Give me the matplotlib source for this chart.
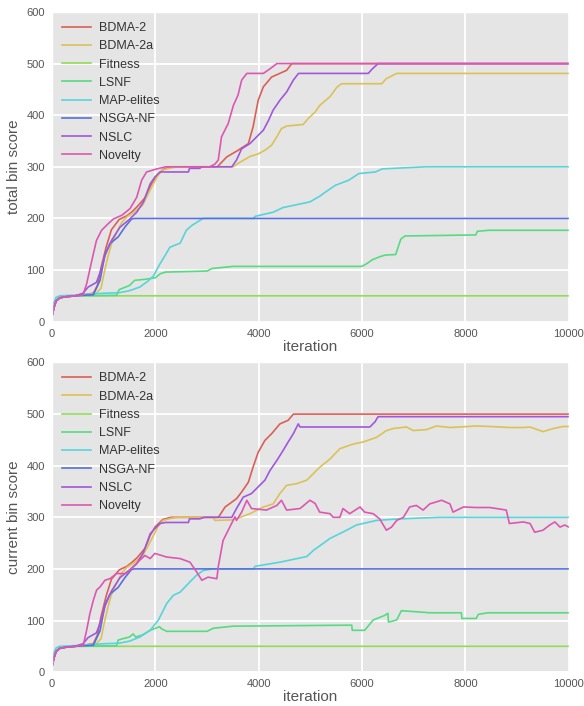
import matplotlib
matplotlib.use("Agg")
import matplotlib.pyplot as plt
import seaborn as sns

names = ["BDMA-2", "BDMA-2a", "Fitness", "LSNF", "MAP-elites", "NSGA-NF", "NSLC", "Novelty"]

# shared start of the runs (iteration, score)
early = [(0, 10), (40, 28), (80, 40), (150, 46), (250, 48), (450, 50)]

# total bin score
bdma2_tot = early + [(600, 52), (800, 55), (880, 70), (950, 105), (1050, 145), (1150, 178), (1300, 198),
                     (1450, 205), (1550, 213), (1650, 223), (1800, 240), (1900, 262), (2000, 280), (2150, 295),
                     (2300, 300), (3200, 300), (3380, 319), (3600, 332), (3800, 345), (3890, 377), (3990, 429),
                     (4090, 455), (4250, 474), (4540, 487), (4640, 500), (10000, 500)]
bdma2a_tot = early + [(600, 52), (850, 54), (950, 65), (1000, 90), (1080, 125), (1150, 150), (1250, 172),
                      (1350, 192), (1450, 203), (1600, 213), (1750, 225), (1850, 245), (1950, 265), (2050, 283),
                      (2150, 294), (2300, 298), (2450, 300), (3500, 300), (3640, 309), (3830, 320), (3990, 325),
                      (4120, 332), (4250, 342), (4350, 358), (4440, 374), (4540, 379), (4860, 382), (4960, 394),
                      (5090, 406), (5180, 419), (5380, 436), (5510, 454), (5600, 461), (6380, 461), (6470, 471),
                      (6670, 481), (10000, 481)]
fitness_tot = [(0, 10), (40, 30), (80, 42), (150, 47), (300, 50), (10000, 50)]
lsnf_tot = early + [(1250, 51), (1300, 62), (1400, 66), (1500, 70), (1600, 80), (1800, 82), (2000, 85),
                    (2100, 93), (2200, 96), (3000, 98), (3100, 103), (3500, 107), (5990, 107), (6050, 110),
                    (6100, 113), (6200, 120), (6350, 126), (6450, 129), (6650, 130), (6700, 145), (6750, 160),
                    (6830, 166), (8200, 168), (8230, 175), (8450, 177), (10000, 177)]
map_tot = [(0, 15), (40, 38), (80, 47), (150, 50), (600, 52), (1000, 55), (1300, 56), (1500, 60), (1700, 67),
           (1850, 78), (1960, 88), (2090, 112), (2200, 130), (2280, 144), (2400, 149), (2480, 152), (2600, 177),
           (2700, 186), (2860, 196), (2930, 200), (3900, 200), (3930, 204), (4280, 212), (4470, 221), (4990, 232),
           (5180, 243), (5290, 251), (5480, 264), (5740, 274), (5940, 287), (6260, 290), (6390, 296), (7230, 300),
           (10000, 300)]
nsga_tot = early + [(600, 51), (800, 52), (930, 80), (1025, 130), (1120, 151), (1280, 164), (1410, 183),
                    (1540, 199), (1600, 200), (10000, 200)]
nslc_tot = early + [(600, 55), (700, 67), (860, 76), (950, 100), (1025, 128), (1150, 157), (1315, 183),
                    (1475, 196), (1640, 212), (1770, 232), (1900, 267), (1990, 280), (2090, 290), (2640, 290),
                    (2660, 297), (2860, 297), (2900, 300), (3480, 300), (3570, 313), (3670, 335), (3830, 345),
                    (3960, 358), (4090, 371), (4190, 390), (4280, 410), (4410, 429), (4540, 445), (4670, 468),
                    (4770, 481), (6120, 481), (6200, 490), (6310, 500), (10000, 500)]
nov_tot = early + [(600, 52), (670, 73), (770, 118), (860, 157), (960, 177), (1090, 190), (1190, 199),
                   (1350, 206), (1510, 219), (1640, 241), (1735, 274), (1830, 290), (2030, 296), (2200, 300),
                   (3050, 300), (3150, 305), (3217, 313), (3280, 358), (3410, 384), (3510, 419), (3600, 439),
                   (3670, 468), (3770, 481), (4090, 481), (4220, 490), (4350, 500), (10000, 500)]

# current bin score
bdma2_cur = early + [(600, 52), (800, 55), (880, 72), (950, 108), (1050, 148), (1150, 180), (1300, 198),
                     (1450, 205), (1550, 213), (1650, 222), (1800, 240), (1900, 265), (2000, 282), (2150, 296),
                     (2300, 300), (3220, 300), (3350, 320), (3570, 336), (3670, 349), (3800, 368), (3890, 397),
                     (3990, 426), (4120, 449), (4250, 462), (4410, 481), (4570, 488), (4670, 500), (10000, 500)]
bdma2a_cur = early + [(600, 52), (850, 54), (950, 65), (1000, 90), (1080, 125), (1150, 150), (1250, 172),
                      (1350, 192), (1450, 203), (1600, 213), (1750, 225), (1850, 243), (1950, 262), (2050, 282),
                      (2150, 294), (2300, 298), (2450, 300), (3120, 300), (3150, 294), (3500, 295), (3640, 300),
                      (3830, 307), (4090, 320), (4280, 326), (4410, 346), (4540, 362), (4730, 365), (4930, 372),
                      (5120, 391), (5180, 397), (5380, 413), (5570, 433), (5830, 442), (6020, 446), (6280, 455),
                      (6470, 468), (6600, 472), (6860, 475), (6990, 468), (7250, 470), (7440, 477), (7700, 474),
                      (7890, 475), (8210, 477), (8470, 476), (8860, 474), (9120, 474), (9250, 475), (9500, 466),
                      (9700, 472), (9890, 476), (10000, 476)]
fitness_cur = [(0, 10), (40, 30), (80, 42), (150, 47), (300, 50), (10000, 50)]
lsnf_cur = early + [(1250, 51), (1280, 62), (1380, 65), (1500, 68), (1570, 74), (1620, 68), (1750, 72),
                    (1900, 81), (2080, 88), (2120, 84), (2220, 79), (3000, 79), (3120, 85), (3500, 89), (5800, 91),
                    (5810, 81), (6050, 81), (6215, 101), (6440, 110), (6500, 114), (6510, 97), (6670, 101),
                    (6760, 119), (7310, 115), (7920, 115), (7930, 104), (8210, 104), (8250, 112), (8440, 115),
                    (10000, 115)]
map_cur = [(0, 15), (40, 38), (80, 47), (150, 50), (600, 52), (1000, 55), (1300, 56), (1500, 60), (1700, 68),
           (1900, 81), (2060, 101), (2220, 133), (2350, 149), (2480, 155), (2670, 175), (2800, 188), (2930, 197),
           (3100, 200), (3900, 200), (3930, 205), (4410, 213), (4930, 224), (5060, 236), (5380, 259), (5700, 275),
           (5890, 285), (6280, 294), (6730, 297), (7500, 300), (10000, 300)]
nsga_cur = early + [(600, 51), (800, 52), (930, 80), (1025, 130), (1120, 151), (1280, 164), (1410, 183),
                    (1540, 199), (1600, 200), (10000, 200)]
nslc_cur = early + [(600, 55), (700, 67), (860, 76), (950, 100), (1025, 128), (1150, 157), (1315, 183),
                    (1475, 196), (1640, 210), (1770, 232), (1900, 268), (1990, 278), (2090, 288), (2200, 290),
                    (2640, 290), (2660, 297), (2860, 297), (2950, 300), (3480, 300), (3570, 317), (3700, 339),
                    (3860, 346), (3990, 359), (4120, 372), (4220, 391), (4350, 410), (4475, 430), (4570, 446),
                    (4670, 462), (4765, 481), (4800, 475), (6150, 475), (6250, 485), (6310, 495), (10000, 495)]
nov_cur = early + [(570, 52), (605, 52), (670, 81), (735, 114), (800, 139), (864, 159), (930, 165), (1025, 178),
                   (1120, 181), (1250, 191), (1440, 191), (1570, 204), (1700, 217), (1800, 226), (1900, 220),
                   (1990, 230), (2220, 223), (2480, 220), (2670, 213), (2800, 194), (2900, 178), (3020, 184),
                   (3190, 181), (3217, 204), (3310, 255), (3440, 281), (3540, 301), (3570, 294), (3670, 310),
                   (3770, 333), (3860, 317), (4150, 314), (4350, 323), (4440, 333), (4540, 314), (4800, 317),
                   (4990, 333), (5090, 327), (5180, 310), (5380, 307), (5440, 300), (5570, 300), (5630, 317),
                   (5760, 307), (5960, 320), (6050, 310), (6215, 307), (6340, 297), (6470, 275), (6570, 281),
                   (6670, 294), (6800, 300), (6920, 320), (7050, 323), (7180, 314), (7310, 326), (7540, 333),
                   (7700, 326), (7760, 310), (7960, 320), (8210, 319), (8470, 319), (8790, 314), (8850, 288),
                   (9120, 291), (9250, 288), (9340, 271), (9500, 275), (9630, 285), (9730, 291), (9830, 281),
                   (9920, 285), (10000, 281)]

total = [bdma2_tot, bdma2a_tot, fitness_tot, lsnf_tot, map_tot, nsga_tot, nslc_tot, nov_tot]
current = [bdma2_cur, bdma2a_cur, fitness_cur, lsnf_cur, map_cur, nsga_cur, nslc_cur, nov_cur]

plt.style.use("ggplot")
plt.rcParams["font.family"] = ["Liberation Sans", "DejaVu Sans"]
colors = sns.color_palette("hls", 8)

fig, axes = plt.subplots(2, 1, figsize=(5.84, 7.06), dpi=100)
plt.subplots_adjust(left=0.089, right=0.974, top=0.983, bottom=0.048, hspace=0.132)

for ax, runs, ylab in zip(axes, [total, current], ["total bin score", "current bin score"]):
    for pts, name, c in zip(runs, names, colors):
        xs = [p[0] for p in pts]
        ys = [p[1] for p in pts]
        ax.plot(xs, ys, color=c, lw=1.2, label=name)
    ax.set_xlim(0, 10000)
    ax.set_ylim(0, 600)
    ax.set_xticks([0, 2000, 4000, 6000, 8000, 10000])
    ax.set_yticks([0, 100, 200, 300, 400, 500, 600])
    ax.tick_params(length=0, labelsize=8, colors="#555555", pad=5)
    ax.grid(color="white", lw=1.3)
    ax.set_facecolor("#E5E5E5")
    ax.set_xlabel("iteration", fontsize=11, color="#555555", labelpad=1)
    ax.set_ylabel(ylab, fontsize=11, color="#555555", labelpad=4)
    leg = ax.legend(loc="upper left", frameon=False, fontsize=9, handlelength=2.3,
                    handletextpad=0.7, borderaxespad=0.4)
    for t in leg.get_texts():
        t.set_color("#333333")

fig.savefig("out.png", dpi=100, facecolor="white")
